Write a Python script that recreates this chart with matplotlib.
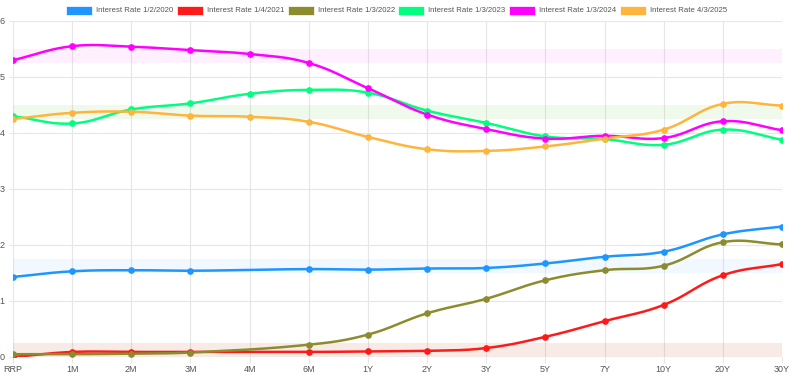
import numpy as np
import matplotlib
matplotlib.use('Agg')
import matplotlib.pyplot as plt
from matplotlib.patches import Rectangle

# maturities on the x axis
maturities = ['RRP', '1M', '2M', '3M', '4M', '6M', '1Y', '2Y', '3Y', '5Y', '7Y', '10Y', '20Y', '30Y']

# yields per curve (nan = no 4M bill at that date)
rates_2020 = [1.43, 1.53, 1.55, 1.54, np.nan, 1.57, 1.56, 1.58, 1.59, 1.67, 1.79, 1.88, 2.19, 2.33]
rates_2021 = [0.00, 0.09, 0.09, 0.09, np.nan, 0.09, 0.10, 0.11, 0.16, 0.36, 0.64, 0.93, 1.46, 1.66]
rates_2022 = [0.05, 0.05, 0.06, 0.08, np.nan, 0.22, 0.40, 0.78, 1.04, 1.37, 1.55, 1.63, 2.05, 2.01]
rates_2023 = [4.30, 4.17, 4.42, 4.53, 4.70, 4.77, 4.72, 4.40, 4.18, 3.94, 3.89, 3.79, 4.06, 3.88]
rates_2024 = [5.30, 5.55, 5.54, 5.48, 5.41, 5.25, 4.80, 4.33, 4.07, 3.90, 3.95, 3.91, 4.21, 4.05]
rates_2025 = [4.25, 4.36, 4.38, 4.31, 4.29, 4.20, 3.93, 3.71, 3.68, 3.76, 3.90, 4.06, 4.52, 4.49]

# fed funds target range at each date
fed_low = [1.50, 0.00, 0.00, 4.25, 5.25, 4.25]
fed_high = [1.75, 0.25, 0.25, 4.50, 5.50, 4.50]

labels = ['Interest Rate 1/2/2020', 'Interest Rate 1/4/2021', 'Interest Rate 1/3/2022',
          'Interest Rate 1/3/2023', 'Interest Rate 1/3/2024', 'Interest Rate 4/3/2025']
colors = ['#1E96FF', '#FF1A1A', '#8C8C2E', '#00FF7F', '#FF00FF', '#FFB43C']
series = [rates_2020, rates_2021, rates_2022, rates_2023, rates_2024, rates_2025]

W, H = 796, 375
x_left, x_right = 13, 782
y_top, y_bot = 21, 357

plt.rcParams['font.family'] = ['Liberation Sans', 'DejaVu Sans']
fig = plt.figure(figsize=(W / 100, H / 100), dpi=100)
ax = fig.add_axes([x_left / W, (H - y_bot) / H, (x_right - x_left) / W, (y_bot - y_top) / H])
ax.set_xlim(0, len(maturities) - 1)
ax.set_ylim(0, 6)

# pixels per data unit, used for the chart.js style spline
sx = (x_right - x_left) / (len(maturities) - 1)
sy = (y_bot - y_top) / 6.0


def spline(xs, ys, tension=0.4, n=30):
    px = np.array(xs) * sx
    py = np.array(ys) * sy
    m = len(px)
    cp_in = np.zeros((m, 2))
    cp_out = np.zeros((m, 2))
    for i in range(m):
        p0 = (px[max(i - 1, 0)], py[max(i - 1, 0)])
        p1 = (px[i], py[i])
        p2 = (px[min(i + 1, m - 1)], py[min(i + 1, m - 1)])
        d01 = np.hypot(p1[0] - p0[0], p1[1] - p0[1])
        d12 = np.hypot(p2[0] - p1[0], p2[1] - p1[1])
        tot = d01 + d12
        s01 = d01 / tot if tot else 0
        s12 = d12 / tot if tot else 0
        fa = tension * s01
        fb = tension * s12
        cp_in[i] = (p1[0] - fa * (p2[0] - p0[0]), p1[1] - fa * (p2[1] - p0[1]))
        cp_out[i] = (p1[0] + fb * (p2[0] - p0[0]), p1[1] + fb * (p2[1] - p0[1]))
    out_x, out_y = [], []
    t = np.linspace(0, 1, n)
    for i in range(m - 1):
        a = np.array([px[i], py[i]])
        b = cp_out[i]
        c = cp_in[i + 1]
        d = np.array([px[i + 1], py[i + 1]])
        pts = ((1 - t) ** 3)[:, None] * a + (3 * (1 - t) ** 2 * t)[:, None] * b \
            + (3 * (1 - t) * t ** 2)[:, None] * c + (t ** 3)[:, None] * d
        out_x.extend(pts[:, 0])
        out_y.extend(pts[:, 1])
    return np.array(out_x) / sx, np.array(out_y) / sy


# fed funds bands
for lo, hi, col in zip(fed_low, fed_high, colors):
    ax.axhspan(lo, hi, color=col, alpha=0.06, lw=0, zorder=1)

xpos = np.arange(len(maturities))
for vals, col in zip(series, colors):
    v = np.array(vals, dtype=float)
    ok = ~np.isnan(v)
    cx, cy = spline(xpos[ok], v[ok])
    ax.plot(cx, cy, color=col, lw=1.8, zorder=3, solid_capstyle='round')
    ax.plot(xpos[ok], v[ok], 'o', color=col, ms=3.8, zorder=4)

ax.set_xticks(xpos)
ax.set_xticklabels(maturities)
ax.set_yticks(range(7))
ax.grid(True, color='#e6e6e6', lw=0.8, zorder=0)
for s in ax.spines.values():
    s.set_visible(False)
ax.tick_params(axis='x', length=4, color='#e6e6e6', labelsize=6.5, labelcolor='#555555', pad=2)
ax.tick_params(axis='y', length=3, color='#e6e6e6', labelsize=6.5, labelcolor='#555555', pad=3)
ax.set_axisbelow(True)

# legend drawn by hand along the top
for i, (lab, col) in enumerate(zip(labels, colors)):
    x0 = 66 + i * 110.8
    fig.patches.append(Rectangle((x0 / W, (H - 15) / H), 26 / W, 9 / H,
                                 transform=fig.transFigure, facecolor=col,
                                 edgecolor='white', lw=0.5))
    fig.text((x0 + 30) / W, (H - 10.5) / H, lab, fontsize=5.6, color='#555555',
             va='center', ha='left')

fig.savefig('out.png', dpi=100)
